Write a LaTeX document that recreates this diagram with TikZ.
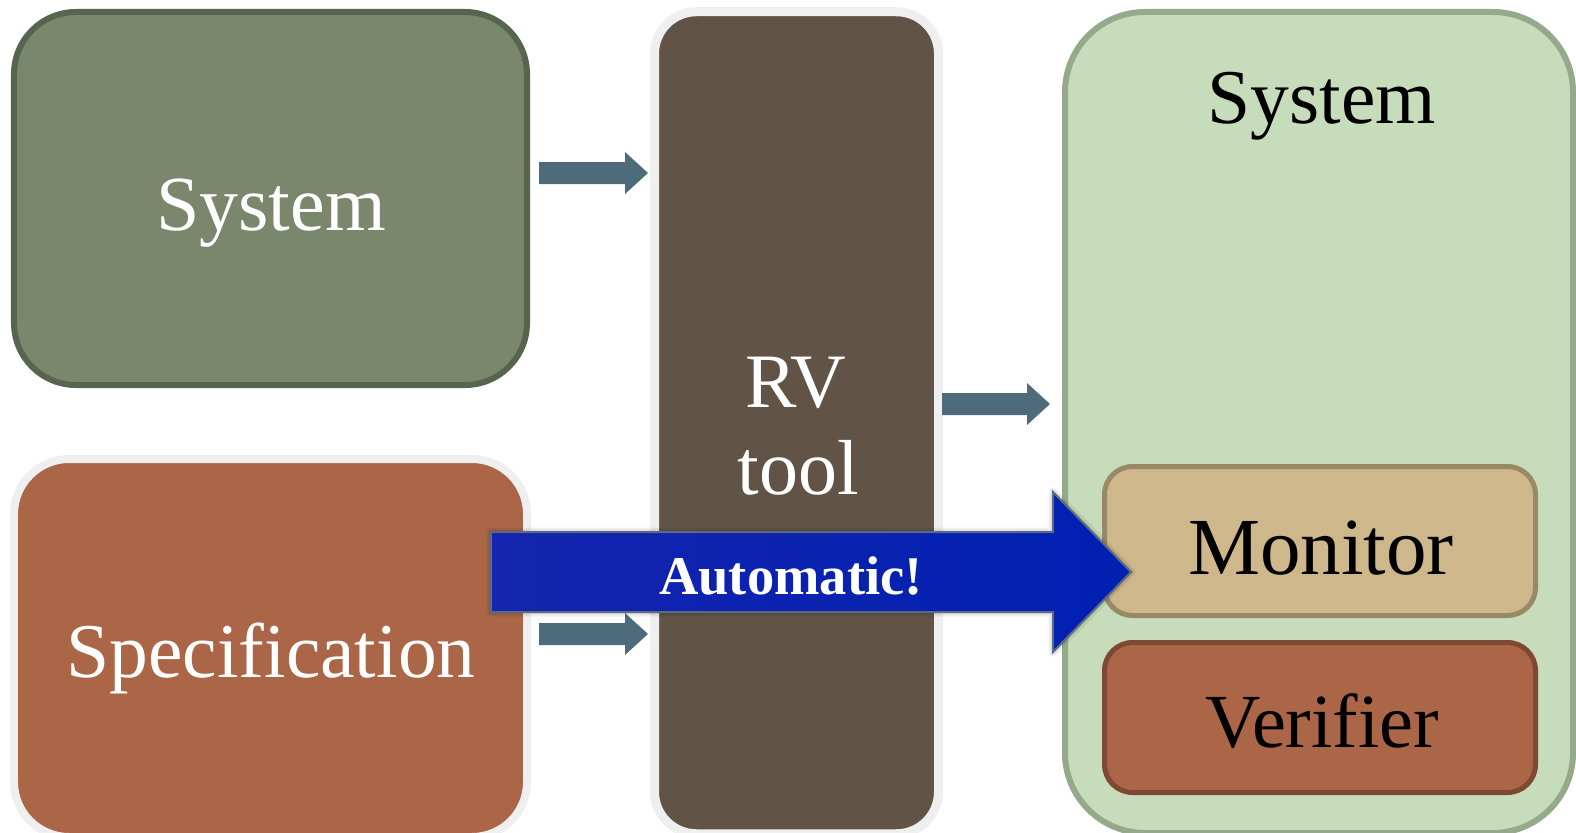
\documentclass[tikz,border=0pt]{standalone}
\usepackage{fontspec}
\setmainfont{Liberation Serif}
\usetikzlibrary{calc}

\definecolor{sysfill}{HTML}{7A876D}
\definecolor{sysline}{HTML}{56654D}
\definecolor{specfill}{HTML}{AB6547}
\definecolor{glow}{HTML}{EFEFEF}
\definecolor{rvfill}{HTML}{615447}
\definecolor{hostfill}{HTML}{C6DCBB}
\definecolor{hostline}{HTML}{95A98B}
\definecolor{monfill}{HTML}{CDB78B}
\definecolor{monline}{HTML}{998A67}
\definecolor{verline}{HTML}{7E4832}
\definecolor{flowarrow}{HTML}{4E6B7C}
\definecolor{autoleft}{HTML}{1424AE}
\definecolor{autoright}{HTML}{0020B2}
\definecolor{autoline}{HTML}{5A6A82}

\tikzset{
  panel/.style={rectangle, inner sep=0pt, outer sep=0pt},
  bigtext/.style={font=\fontsize{#1}{80bp}\selectfont, inner sep=0pt, anchor=base},
  bigtext/.default=78bp,
  % horizontal block arrow: shaft half-height, head half-height, head length
  blockarrow/.style n args={3}{to path={
    let \p1=(\tikztostart), \p2=(\tikztotarget) in
    ({\x1},{\y1+#1}) -- ({\x2-#3},{\y1+#1}) -- ({\x2-#3},{\y1+#2}) --
    ({\x2},{\y1}) -- ({\x2-#3},{\y1-#2}) -- ({\x2-#3},{\y1-#1}) --
    ({\x1},{\y1-#1}) -- cycle}},
  flow/.style={fill=flowarrow, blockarrow={11bp}{21bp}{23bp}},
  autoshape/.style={blockarrow={40bp}{80bp}{78bp}},
}

\begin{document}
\begin{tikzpicture}[x=1bp, y=-1bp]
  \useasboundingbox (0,0) rectangle (1576,832);

  % input system
  \node[panel, draw=sysline, fill=sysfill, line width=6bp, rounded corners=62bp,
        minimum width=513bp, minimum height=373bp] (sysL) at (270.5,198.5) {};
  \node[bigtext=78bp, text=white] (sysLtxt) at (271,230) {System};

  % specification
  \node[panel, draw=glow, fill=specfill, line width=8bp, rounded corners=55bp,
        minimum width=513bp, minimum height=378bp] (spec) at (270.5,648) {};
  \node[bigtext=77.5bp, text=white] (spectxt) at (271,677) {Specification};

  % RV tool
  \node[panel, draw=glow, fill=rvfill, line width=9bp, rounded corners=42bp,
        minimum width=284bp, minimum height=822bp] (rv) at (796.5,422.75) {};
  \node[bigtext=77bp, text=white] (rvtxtA) at (796,407) {RV};
  \node[bigtext=78bp, text=white] (rvtxtB) at (798,494) {tool};

  % instrumented system
  \node[panel, draw=hostline, fill=hostfill, line width=6bp, rounded corners=80bp,
        minimum width=508bp, minimum height=821bp] (host) at (1319,422.5) {};
  \node[bigtext=77.5bp] (hosttxt) at (1322,123) {System};

  \node[panel, draw=monline, fill=monfill, line width=5bp, rounded corners=28bp,
        minimum width=431bp, minimum height=149bp] (mon) at (1320,541) {};
  \node[bigtext=81bp] (montxt) at (1321,574) {Monitor};

  \node[panel, draw=verline, fill=specfill, line width=5bp, rounded corners=28bp,
        minimum width=431bp, minimum height=150bp] (ver) at (1320,717.5) {};
  \node[bigtext=76.5bp] (vertxt) at (1322,747) {Verifier};

  % flow arrows
  \coordinate (a1s) at (539,173);  \coordinate (a1e) at (648,173);
  \coordinate (a2s) at (942,404);  \coordinate (a2e) at (1050,404);
  \coordinate (a3s) at (539,634);  \coordinate (a3e) at (648,634);
  \path[flow] (a1s) to (a1e);
  \path[flow] (a2s) to (a2e);
  \path[flow] (a3s) to (a3e);

  % automatic generation arrow, with a faint halo beneath
  \coordinate (autos) at (491,572);
  \coordinate (autoe) at (1131,572);
  \path[draw=black, draw opacity=0.06, line width=9bp, line join=round, autoshape] (autos) to (autoe);
  \path[draw=black, draw opacity=0.08, line width=5bp, line join=round, autoshape] (autos) to (autoe);
  \path[left color=autoleft, right color=autoright, draw=autoline, line width=2bp,
        autoshape] (autos) to (autoe);
  \node[inner sep=0pt, anchor=base, text=white,
        font=\fontsize{54.5bp}{56bp}\selectfont\bfseries] (autotxt) at (791,594) {Automatic!};
\end{tikzpicture}
\end{document}
